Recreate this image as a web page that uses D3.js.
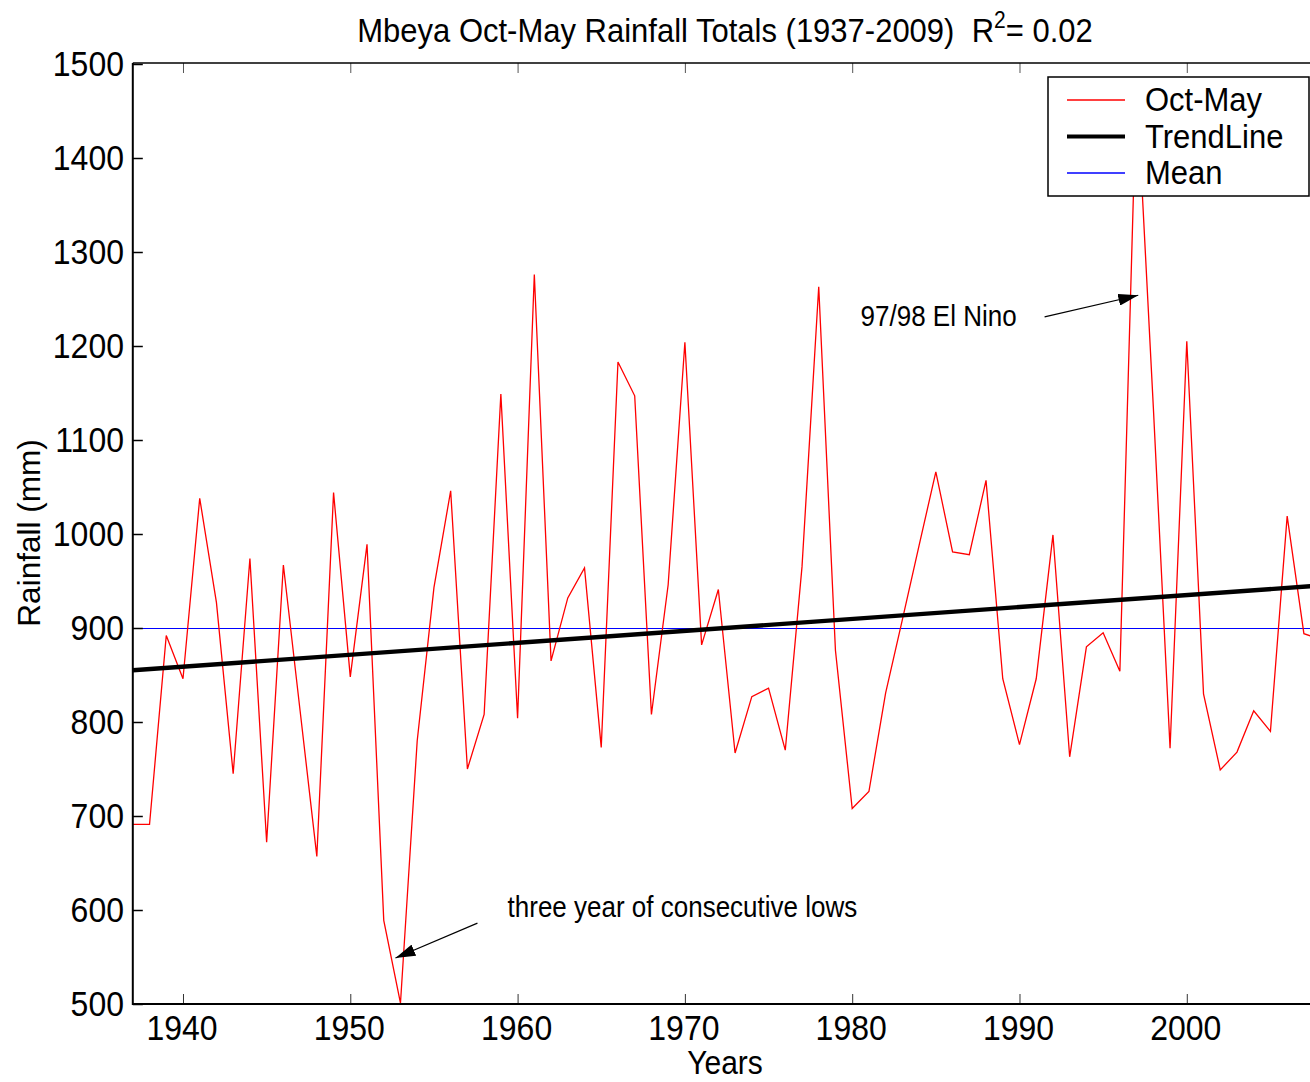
<!DOCTYPE html>
<html>
<head>
<meta charset="utf-8">
<script src="https://cdn.jsdelivr.net/npm/d3@7"></script>
<style>
  html, body { margin: 0; padding: 0; background: #ffffff; }
  svg { display: block; font-family: "Liberation Sans", Arial, sans-serif; }
</style>
</head>
<body>
<svg id="chart" width="1310" height="1082"></svg>
<script>
// Mbeya Oct-May seasonal rainfall totals (mm)
const years = [
  1937, 1938, 1939, 1940, 1941, 1942, 1943, 1944, 1945, 1946,
  1947, 1948, 1949, 1950, 1951, 1952, 1953, 1954, 1955, 1956,
  1957, 1958, 1959, 1960, 1961, 1962, 1963, 1964, 1965, 1966,
  1967, 1968, 1969, 1970, 1971, 1972, 1973, 1974, 1975, 1976,
  1977, 1978, 1979, 1980, 1981, 1982, 1983, 1984, 1985, 1986,
  1987, 1988, 1989, 1990, 1991, 1992, 1993, 1994, 1995, 1996,
  1997, 1998, 1999, 2000, 2001, 2002, 2003, 2004, 2005, 2006,
  2007, 2008
];
const rainfall = [
   691,  691,  892,  846, 1038,  927,  745,  974,  672,  967,
   812,  657, 1044,  848,  989,  589,  501,  780,  943, 1046,
   750,  808, 1149,  804, 1276,  865,  932,  964,  773, 1183,
  1147,  808,  946, 1204,  882,  941,  767,  827,  836,  770,
   965, 1263,  876,  708,  726,  831,  909,  988, 1066,  981,
   978, 1057,  846,  776,  846,  999,  763,  880,  895,  854,
  1480, 1135,  772, 1205,  830,  749,  768,  812,  790, 1019,
   894,  888
];

// Linear trend (endpoints of the fitted line) and long-term mean
const trendYears = [1937, 2009];
const trendValues = [855, 946.5];
const meanValue = 900;

// Axes
const xDomain = [1937, 2009];
const yDomain = [500, 1500];
const xTicks = [1940, 1950, 1960, 1970, 1980, 1990, 2000];
const yTicks = [500, 600, 700, 800, 900, 1000, 1100, 1200, 1300, 1400, 1500];

// Texts
const titleMain = "Mbeya Oct-May Rainfall Totals (1937-2009)\u00a0\u00a0R";
const titleSup = "2";
const titleTail = "= 0.02";
const xLabel = "Years";
const yLabel = "Rainfall (mm)";
const legendItems = [
  { label: "Oct-May", color: "#ff0000", width: 1.3 },
  { label: "TrendLine", color: "#000000", width: 4 },
  { label: "Mean", color: "#0000ff", width: 1.3 }
];
// Annotations in data units: text anchor and arrow from -> to
const notes = [
  { text: "97/98 El Nino", tx: 1980.5, ty: 1231, from: [1991.5, 1231], to: [1997.1, 1254] },
  { text: "three year of consecutive lows", tx: 1959.4, ty: 602, from: [1957.6, 586], to: [1952.7, 549] }
];

const svg = d3.select("#chart");
const plotLeft = 132.8, plotTop = 63, plotBottom = 1004;
const pxPerYear = 16.73;
const x = d3.scaleLinear().domain(xDomain).range([plotLeft, plotLeft + (xDomain[1] - xDomain[0]) * pxPerYear]);
const y = d3.scaleLinear().domain(yDomain).range([plotBottom, 64]);
const stretch = 1.1;

// mean, series and trend
const line = d3.line().x((d, i) => x(years[i])).y(d => y(d));
svg.append("line")
  .attr("x1", x(xDomain[0])).attr("x2", x(xDomain[1]))
  .attr("y1", y(meanValue) + 0.5).attr("y2", y(meanValue) + 0.5)
  .attr("stroke", "#0000ff").attr("stroke-width", 1)
  .attr("shape-rendering", "crispEdges");

svg.append("path").datum(rainfall)
  .attr("d", line)
  .attr("fill", "none").attr("stroke", "#ff0000").attr("stroke-width", 1.3)
  .attr("stroke-linejoin", "miter");

svg.append("line")
  .attr("x1", x(trendYears[0])).attr("x2", x(trendYears[1]))
  .attr("y1", y(trendValues[0])).attr("y2", y(trendValues[1]))
  .attr("stroke", "#000000").attr("stroke-width", 4.4);

// axes frame with inward ticks
const yAxis = d3.axisLeft(y).tickValues(yTicks).tickSize(-10).tickFormat("");
svg.append("g").attr("transform", `translate(${plotLeft},0)`).call(yAxis)
  .call(g => g.select(".domain").remove())
  .selectAll("line").attr("stroke", "#000").attr("stroke-width", 1.5);

const xAxisB = d3.axisBottom(x).tickValues(xTicks).tickSize(-10).tickFormat("");
svg.append("g").attr("transform", `translate(0,${plotBottom})`).call(xAxisB)
  .call(g => g.select(".domain").remove())
  .selectAll("line").attr("stroke", "#333").attr("stroke-width", 1);

const xAxisT = d3.axisTop(x).tickValues(xTicks).tickSize(-10).tickFormat("");
svg.append("g").attr("transform", `translate(0,${plotTop})`).call(xAxisT)
  .call(g => g.select(".domain").remove())
  .selectAll("line").attr("stroke", "#555").attr("stroke-width", 1);

svg.append("line").attr("x1", plotLeft).attr("x2", 1310).attr("y1", plotTop).attr("y2", plotTop)
  .attr("stroke", "#000").attr("stroke-width", 1.6);
svg.append("line").attr("x1", plotLeft).attr("x2", 1310).attr("y1", plotBottom).attr("y2", plotBottom)
  .attr("stroke", "#000").attr("stroke-width", 2);
svg.append("line").attr("x1", plotLeft).attr("x2", plotLeft).attr("y1", plotTop).attr("y2", plotBottom + 1)
  .attr("stroke", "#000").attr("stroke-width", 2);

// text helper with a slight vertical stretch
function label(txt, px, py, size, anchor) {
  return svg.append("text")
    .attr("transform", `translate(${px},${py}) scale(1,${stretch})`)
    .attr("text-anchor", anchor || "start")
    .attr("font-size", size)
    .attr("fill", "#000")
    .text(txt);
}

// tick labels
yTicks.forEach(v => label(String(v), 124, y(v) + 12, 32, "end"));
xTicks.forEach(v => label(String(v), x(v) - 1, 1040, 32, "middle"));

// title
const title = svg.append("text")
  .attr("transform", `translate(725,42) scale(1,${stretch})`)
  .attr("text-anchor", "middle").attr("font-size", 31).attr("fill", "#000");
title.append("tspan").text(titleMain);
title.append("tspan").attr("font-size", 21).attr("dy", -13).text(titleSup);
title.append("tspan").attr("dy", 13).text(titleTail);

// axis labels
label(xLabel, 725, 1074, 30, "middle");
svg.append("text")
  .attr("transform", `translate(40,533) rotate(-90)`)
  .attr("text-anchor", "middle").attr("font-size", 31.5).attr("fill", "#000")
  .text(yLabel);

// annotations with filled arrowheads
const defs = svg.append("defs");
defs.append("marker").attr("id", "head")
  .attr("viewBox", "0 0 20 12").attr("refX", 20).attr("refY", 6)
  .attr("markerWidth", 20).attr("markerHeight", 12).attr("markerUnits", "userSpaceOnUse")
  .attr("orient", "auto")
  .append("path").attr("d", "M0,0 L20,6 L0,12 Z").attr("fill", "#000");

notes.forEach(n => {
  label(n.text, x(n.tx), y(n.ty) + 9, 26, "start");
  svg.append("line")
    .attr("x1", x(n.from[0])).attr("y1", y(n.from[1]))
    .attr("x2", x(n.to[0])).attr("y2", y(n.to[1]))
    .attr("stroke", "#000").attr("stroke-width", 1.2)
    .attr("marker-end", "url(#head)");
});

// legend
const lg = svg.append("g").attr("transform", "translate(1048,77)");
lg.append("rect").attr("x", 0).attr("y", 0).attr("width", 261).attr("height", 119)
  .attr("fill", "#fff").attr("stroke", "#000").attr("stroke-width", 1.5);
legendItems.forEach((it, i) => {
  const cy = 23 + i * 36.5;
  lg.append("line").attr("x1", 19).attr("x2", 77).attr("y1", cy).attr("y2", cy)
    .attr("stroke", it.color).attr("stroke-width", it.width);
  lg.append("text")
    .attr("transform", `translate(97,${cy + 11}) scale(1,${stretch})`)
    .attr("font-size", 31).attr("fill", "#000").text(it.label);
});
</script>
</body>
</html>
